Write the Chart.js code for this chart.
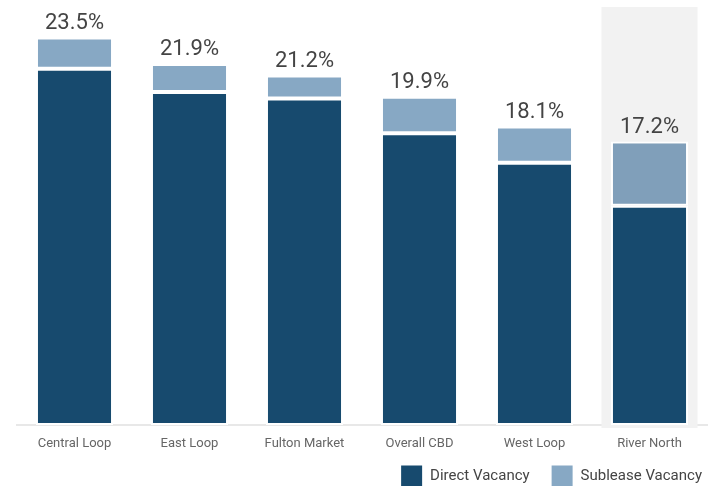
<!DOCTYPE html>
<html>
<head>
<meta charset="utf-8">
<script src="https://cdn.jsdelivr.net/npm/chart.js@4/dist/chart.umd.min.js"></script>
<style>
  html, body { margin: 0; padding: 0; background: #fff; }
  #wrap { width: 715px; height: 486px; position: relative; }
</style>
</head>
<body>
<div id="wrap"><canvas id="chart"></canvas></div>
<script>
const submarkets = ["Central Loop", "East Loop", "Fulton Market", "Overall CBD", "West Loop", "River North"];
const directVacancy = [21.6, 20.2, 19.8, 17.7, 15.9, 13.3];
const subleaseVacancy = [1.9, 1.7, 1.4, 2.2, 2.2, 3.9];
const highlighted = "River North";

const DIRECT = "#174a6e";
const SUBLEASE = "#87a8c4";

// light grey panel behind the highlighted submarket
const highlightBand = {
  id: "highlightBand",
  beforeDatasetsDraw(chart) {
    const { ctx, scales: { x, y } } = chart;
    const idx = submarkets.indexOf(highlighted);
    if (idx < 0) return;
    const cx = x.getPixelForValue(idx);
    ctx.save();
    ctx.fillStyle = "#f2f2f2";
    ctx.fillRect(cx - 48, 7, 96, y.getPixelForValue(0) + 3 - 7);
    ctx.restore();
  }
};

// total vacancy printed above each stack
const totalLabels = {
  id: "totalLabels",
  afterDatasetsDraw(chart) {
    const { ctx, scales: { x, y } } = chart;
    ctx.save();
    ctx.font = "22px Roboto, sans-serif";
    ctx.fillStyle = "#444";
    ctx.textAlign = "center";
    ctx.textBaseline = "bottom";
    submarkets.forEach((name, i) => {
      const total = directVacancy[i] + subleaseVacancy[i];
      ctx.fillText(total.toFixed(1) + "%", x.getPixelForValue(i), y.getPixelForValue(total) - 3);
    });
    ctx.restore();
  }
};

// legend row, right aligned under the axis labels
const bottomLegend = {
  id: "bottomLegend",
  afterDraw(chart) {
    const { ctx } = chart;
    const items = chart.data.datasets.map((ds, i) => ({ text: ds.label, color: i === 0 ? DIRECT : SUBLEASE }));
    const box = 21, gap = 8, spacing = 22;
    const cy = chart.height - 10;
    ctx.save();
    ctx.font = "15px Roboto, sans-serif";
    ctx.textBaseline = "middle";
    ctx.textAlign = "left";
    let right = chart.width - 13;
    for (let i = items.length - 1; i >= 0; i--) {
      const w = ctx.measureText(items[i].text).width;
      const tx = right - w;
      const bx = tx - gap - box;
      ctx.fillStyle = items[i].color;
      ctx.fillRect(bx, cy - box / 2, box, box);
      ctx.fillStyle = "#444";
      ctx.fillText(items[i].text, tx, cy);
      right = bx - spacing;
    }
    ctx.restore();
  }
};

const subleaseColors = submarkets.map(n => n === highlighted ? "#809fba" : SUBLEASE);

new Chart(document.getElementById("chart"), {
  type: "bar",
  data: {
    labels: submarkets,
    datasets: [
      {
        label: "Direct Vacancy",
        data: directVacancy,
        backgroundColor: DIRECT,
        borderColor: "#ffffff",
        borderWidth: 2,
        borderSkipped: false
      },
      {
        label: "Sublease Vacancy",
        data: subleaseVacancy,
        backgroundColor: subleaseColors,
        borderColor: "#ffffff",
        borderWidth: 2,
        borderSkipped: false
      }
    ]
  },
  options: {
    responsive: true,
    maintainAspectRatio: false,
    animation: false,
    layout: { padding: { top: 7, left: 17, right: 8, bottom: 31 } },
    datasets: {
      bar: { categoryPercentage: 1, barPercentage: 0.67 }
    },
    scales: {
      x: {
        stacked: true,
        grid: { display: false },
        border: { display: true, color: "#e8e8e8", width: 2 },
        ticks: {
          color: "#666",
          font: { family: "Roboto, sans-serif", size: 13 },
          padding: 3
        },
        afterFit(scale) { scale.height = 30; }
      },
      y: {
        stacked: true,
        display: false,
        min: 0,
        max: 25.35
      }
    },
    plugins: {
      legend: { display: false },
      tooltip: { enabled: false }
    }
  },
  plugins: [highlightBand, totalLabels, bottomLegend]
});
</script>
</body>
</html>
